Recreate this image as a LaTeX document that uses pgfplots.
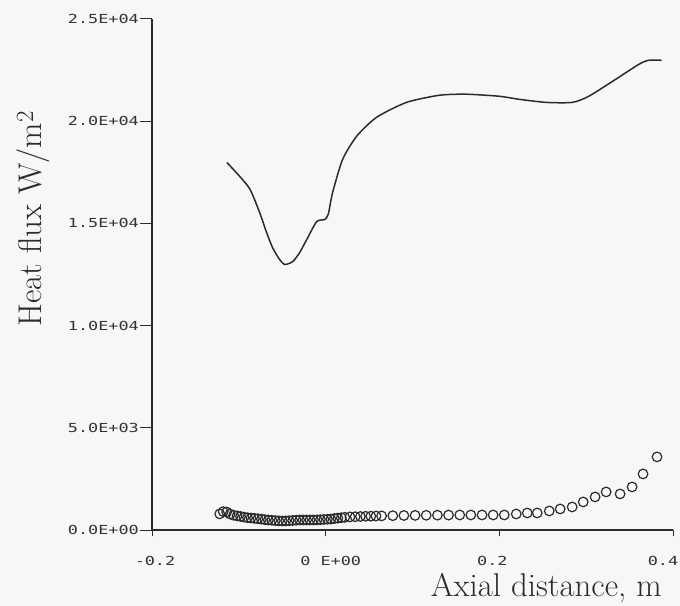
\documentclass[border=0pt]{standalone}
\usepackage{pgfplots}
\pgfplotsset{compat=1.18}
\usepackage{pgfplotstable}
\usepackage{fontspec}
\newfontfamily\plotfont[FakeStretch=1.35]{DejaVu Sans Mono}
\definecolor{ink}{HTML}{2B2B2B}
\definecolor{tickgray}{HTML}{333333}
\definecolor{paper}{HTML}{F7F7F7}

\pgfplotstableread{
x y
-0.1138 17980
-0.0990 17300
-0.0870 16660
-0.0760 15530
-0.0680 14550
-0.0610 13800
-0.0530 13230
-0.0470 12990
-0.0380 13130
-0.0300 13570
-0.0218 14210
-0.0103 15090
-0.0011 15190
0.0030 15450
0.0080 16510
0.0195 18130
0.0356 19260
0.0586 20190
0.0931 20920
0.1310 21270
0.1620 21320
0.2000 21220
0.2230 21070
0.2540 20920
0.2840 20920
0.3030 21220
0.3340 22050
0.3610 22790
0.3720 22980
0.3870 22980
}\linedata

\pgfplotstableread{
x y
-0.122 790
-0.118 900
-0.114 880
-0.110 780
-0.106 720
-0.102 690
-0.098 660
-0.094 630
-0.090 600
-0.086 585
-0.082 570
-0.078 550
-0.074 530
-0.070 505
-0.066 490
-0.062 475
-0.058 460
-0.054 450
-0.050 440
-0.046 445
-0.042 455
-0.038 465
-0.034 480
-0.030 490
-0.026 490
-0.022 490
-0.018 490
-0.014 490
-0.010 495
-0.006 505
-0.002 515
0.002 525
0.006 535
0.010 560
0.014 580
0.018 600
0.022 620
0.028 640
0.034 650
0.040 660
0.046 670
0.052 675
0.058 685
0.0644 690
0.0773 700
0.0901 710
0.1030 715
0.1158 720
0.1287 725
0.1415 730
0.1544 735
0.1672 735
0.1801 735
0.1929 735
0.2057 735
0.2195 784
0.2322 833
0.2437 833
0.2575 931
0.2701 1029
0.2839 1127
0.2966 1372
0.3103 1617
0.3230 1862
0.3391 1764
0.3529 2107
0.3655 2744
0.3816 3577
}\circdata

\begin{document}
\begin{tikzpicture}
\fill[paper] (0,0) rectangle (680bp,606bp);
\pgfplotsset{base/.style={
  scale only axis, width=521bp, height=511bp,
  xmin=-0.2, xmax=0.4, ymin=0, ymax=25000,
  scaled ticks=false,
  at={(152bp,76bp)}, anchor=south west,
  axis lines*=left, tick align=outside,
  axis line style={ink, line width=1.1bp},
  tick style={ink, line width=1bp},
  ticklabel style={font=\plotfont\fontsize{12.5}{14}\selectfont, text=tickgray},
  clip=false}}
\begin{axis}[base,
  ytick=\empty,
  xtick={-0.2,0,0.2,0.4},
  xticklabels={\hspace*{6bp}-0.2,\hspace*{10bp}0 E+00,\hspace*{-14bp}0.2,\hspace*{-20bp}0.4},
  major tick length=6bp,
  xticklabel style={yshift=-17bp},
  xlabel={Axial distance, m},
  xlabel style={at={(axis description cs:0.985,0)}, anchor=base east, yshift=-66bp,
    font=\fontsize{33}{36}\selectfont, text=ink},
  ylabel={Heat flux W/m$^2$},
  ylabel style={at={(axis description cs:0,0.609)}, anchor=base, yshift=110bp,
    font=\fontsize{33}{36}\selectfont, text=ink},
]
\addplot[ink, line width=1.5bp, smooth, tension=0.4] table {\linedata};
\addplot[only marks, mark=o, mark size=4.8bp, mark options={ink, line width=1.2bp}] table {\circdata};
\end{axis}
\begin{axis}[base,
  xtick=\empty,
  ytick={0,5000,10000,15000,20000,25000},
  yticklabels={0.0E+00,5.0E+03,1.0E+04,1.5E+04,2.0E+04,2.5E+04},
  major tick length=12bp,
  yticklabel style={inner sep=1bp},
]
\end{axis}
\pgfresetboundingbox
\path[use as bounding box] (0,0) rectangle (680bp,606bp);
\end{tikzpicture}
\end{document}
